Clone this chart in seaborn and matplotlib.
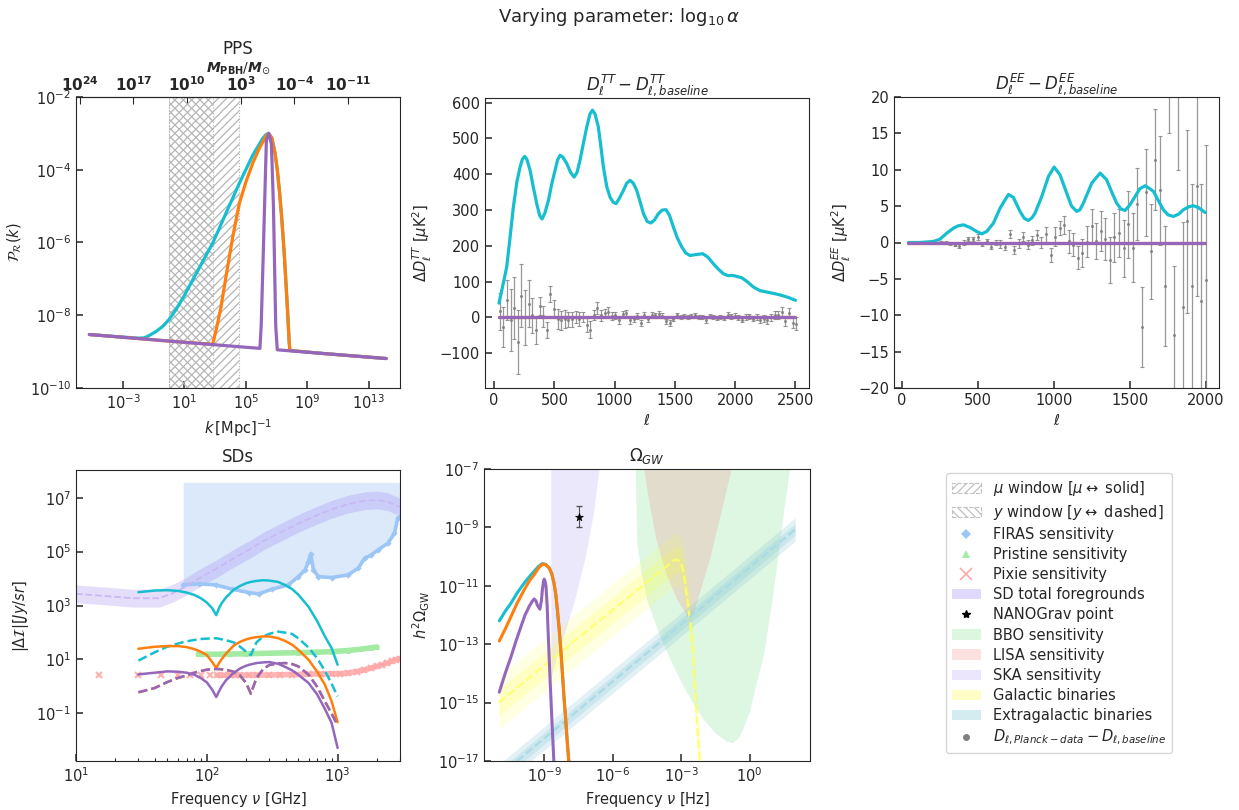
import numpy as np
import matplotlib
matplotlib.use("Agg")
import matplotlib.pyplot as plt
import seaborn as sns
from matplotlib.patches import Patch
from matplotlib.lines import Line2D
from matplotlib.ticker import FixedLocator, NullLocator, LogLocator, NullFormatter

# ---------------------------------------------------------------- data
# PPS panel (log10 k [1/Mpc], log10 P_R)
pps_logk_cyan = [-5.2, -3.0, -2.0, -1.6, -1.27, -0.83, -0.40, -0.01, 0.47, 0.96, 1.55, 2.19, 2.84,
                 3.71, 4.58, 5.45, 6.10, 6.30, 6.48, 6.70, 6.90, 7.05, 7.20, 7.35, 7.50, 7.64, 7.75,
                 7.82, 7.87, 10.0, 14.15]
pps_logP_cyan = [-8.53, -8.60, -8.63, -8.62, -8.55, -8.44, -8.30, -8.12, -7.83, -7.48, -7.02, -6.52,
                 -6.02, -5.19, -4.37, -3.60, -3.14, -3.04, -3.00, -3.13, -3.53, -4.00, -4.62, -5.38,
                 -6.28, -7.29, -8.10, -8.70, -8.97, -9.05, -9.19]
pps_logk_orange = [-5.2, 0.0, 2.84, 3.02, 3.17, 3.39, 3.71, 4.15, 4.58, 5.01, 5.45, 5.88, 6.31, 6.48,
                   6.70, 6.90, 7.05, 7.20, 7.35, 7.50, 7.64, 7.75, 7.82, 7.87, 10.0, 14.15]
pps_logP_orange = [-8.53, -8.71, -8.80, -8.48, -8.21, -7.75, -6.93, -5.84, -4.92, -4.33, -3.82, -3.41,
                   -3.08, -3.00, -3.13, -3.53, -4.00, -4.62, -5.38, -6.28, -7.29, -8.10, -8.70, -8.97,
                   -9.05, -9.19]
pps_logk_purple = [-5.2, 0.0, 5.0, 5.92, 6.0, 6.12, 6.34, 6.5, 6.67, 6.8, 6.95, 7.05, 10.0, 14.15]
pps_logP_purple = [-8.53, -8.71, -8.88, -8.91, -8.3, -6.56, -3.19, -3.0, -3.3, -5.0, -8.3, -8.95,
                   -9.05, -9.19]
mu_window_k = [1.0, 10 ** 4.53]
y_window_k = [1.0, 10 ** 2.86]
mpbh_ticks = [1e24, 1e17, 1e10, 1e3, 1e-4, 1e-11]
mpbh_ticklabels = ["24", "17", "10", "3", "-4", "-11"]

# TT / EE curves
tt_ell = [41, 70, 105, 130, 160, 190, 216, 235, 254, 272, 299, 325, 354, 378, 398, 420, 451, 480, 506,
          527, 547, 570, 603, 635, 664, 688, 713, 740, 769, 795, 816, 838, 865, 885, 907, 935, 962,
          988, 1012, 1040, 1073, 1100, 1128, 1155, 1183, 1210, 1239, 1270, 1300, 1330, 1363, 1395,
          1427, 1455, 1488, 1520, 1557, 1590, 1626, 1680, 1731, 1775, 1819, 1860, 1902, 1940, 1985,
          2054, 2100, 2151, 2205, 2262, 2320, 2372, 2440, 2500]
tt_cyan = [40, 85, 141, 215, 308, 380, 420, 442, 450, 442, 411, 365, 318, 285, 275, 290, 327, 375, 411,
           440, 453, 448, 430, 405, 392, 405, 439, 485, 532, 568, 579, 568, 532, 480, 420, 365, 336,
           322, 318, 333, 355, 375, 383, 375, 355, 325, 290, 268, 264, 272, 290, 300, 301, 285, 252,
           222, 197, 180, 173, 176, 178, 168, 150, 135, 122, 117, 117, 111, 100, 85, 75, 71, 67, 63,
           56, 48]
ee_ell = [42, 118, 206, 250, 294, 338, 370, 404, 447, 491, 524, 557, 601, 645, 670, 700, 732, 776, 805,
          831, 855, 875, 919, 963, 1000, 1039, 1083, 1115, 1149, 1170, 1193, 1248, 1303, 1346, 1380,
          1412, 1440, 1467, 1500, 1533, 1565, 1599, 1630, 1654, 1690, 1719, 1750, 1785, 1820, 1851,
          1885, 1917, 1950, 1993]
ee_cyan = [0.0, 0.0, 0.14, 0.46, 1.28, 1.97, 2.3, 2.43, 2.06, 1.51, 1.19, 1.51, 2.66, 4.72, 5.6, 6.6,
           6.2, 4.27, 3.3, 3.03, 3.4, 4.04, 6.33, 9.08, 10.37, 9.31, 6.79, 5.0, 4.27, 4.5, 5.41, 8.17,
           9.54, 8.62, 6.9, 5.41, 4.6, 4.40, 5.2, 6.33, 7.4, 7.8, 7.4, 7.02, 5.6, 4.5, 3.8, 3.58, 3.9,
           4.5, 4.9, 5.05, 4.8, 4.13]

# Planck binned residuals
planck_ell = [47, 77, 107, 137, 167, 197, 227, 257, 287, 317, 347, 377, 407, 437, 467, 497, 527, 557,
              587, 617, 647, 677, 707, 737, 767, 797, 827, 857, 887, 917, 947, 977, 1007, 1037, 1067,
              1097, 1127, 1157, 1187, 1217, 1247, 1277, 1307, 1337, 1367, 1397, 1427, 1457, 1487, 1517,
              1547, 1577, 1607, 1637, 1667, 1697, 1727, 1757, 1787, 1817, 1847, 1877, 1907, 1937, 1967,
              1997, 2027, 2057, 2087, 2117, 2147, 2177, 2207, 2237, 2267, 2297, 2327, 2357, 2387, 2417,
              2447, 2477, 2507]
tt_data = [16.7, -27, 49, -6.5, 27, -69, 61, 0, 38, 5.6, -36, 33, 3, -34, 66, 24, -4, -8, -4, -6,
           -5, 1, -4, 1, -20, -34, 7, 27, 6, 12, 15, 5, 6, -8, 10, 12, -8, -4, 5, -16, 7,
           -4, 8, 6, 10, 5, -11, -16, -4, 6, 1, 5, 1, 5, 6, 2, 1, -8, 4, 1, -1, 1, -1, 8, 3, 5, -1,
           -7, 1, 3, -3, 1, -6, -3, -7, 1, 6, 6, 15, -10, 12, -15, -18]
tt_err = [51, 55, 57, 86, 87, 90, 88, 77, 66, 49, 37, 25, 29, 22, 23, 24, 27, 26, 25, 22, 21, 17, 19,
          14, 21, 23, 14, 16, 15, 12, 14, 11, 9, 9, 9, 8, 9, 9, 8, 9, 8,
          8, 7, 7, 8, 7, 7, 8, 7, 6, 6, 6, 6, 6, 6, 6, 6, 7, 6, 6, 6, 6, 6, 6, 6, 7, 7, 7, 8, 8, 8,
          9, 9, 9, 10, 10, 11, 11, 13, 13, 14, 15, 18]
ee_data = [0.0, 0.0, 0.0, 0.01, -0.02, 0.03, 0.0, 0.05, 0.0, -0.1, -0.3, -0.45, 0.0, 0.45, 0.45, 0.8,
           -0.25, 0.15, -0.55, 0.0, -0.2, -0.55, 1.15, -1.0, -0.1, 0.8, -0.3, 0.3, 1.05, 0.0, 1.1, -1.7,
           0.8, 2.0, 2.4, 0.15, -0.3, -2.1, -1.4, 0.1, 2.3, 0.2, 1.6, 0.45, -2.4, 0.7, 1.3, -0.8, 2.5,
           -0.7, 5.3, -11.6, 6.9, -1.2, 11.4, 7.2, -6.0, 26, -12.7, 22, -8.8, 2.9, -6.0, 7.7, -8.0, -5.2]
ee_err = [0.05, 0.05, 0.05, 0.06, 0.07, 0.08, 0.1, 0.12, 0.15, 0.2, 0.2, 0.3, 0.3, 0.3, 0.3, 0.4, 0.25,
          0.3, 0.4, 0.4, 0.6, 0.5, 0.5, 0.55, 0.6, 0.6, 0.6, 0.65, 0.7, 0.8, 1.0, 1.0, 1.3, 1.0, 1.3,
          1.6, 1.6, 1.6, 1.9, 2.1, 2.3, 2.5, 2.7, 2.9, 3.2, 3.4, 3.3, 3.9, 4.6, 4.7, 5.0, 5.5, 6.0, 6.5,
          7.0, 7.5, 8.2, 11, 9.5, 12, 11.6, 12.6, 14, 15, 16, 18.6]

# Spectral distortions (GHz, log10 |dI| [Jy/sr])
sd_nu = [30, 40, 50, 60, 70, 80, 90, 100, 110, 118, 124, 130, 140, 160, 180, 200, 217, 240, 270, 300,
         350, 400, 450, 500, 600, 700, 800, 900, 1000]
sd_cyan_mu = [3.495, 3.557, 3.569, 3.544, 3.482, 3.396, 3.272, 3.112, 2.902, 2.643, 2.902, 3.087,
              3.297, 3.581, 3.729, 3.828, 3.877, 3.914, 3.939, 3.927, 3.877, 3.754, 3.606, 3.408,
              2.951, 2.408, 1.853, 1.421, 0.803]
sd_cyan_y = [0.956, 1.265, 1.472, 1.588, 1.67, 1.721, 1.758, 1.771, 1.782, 1.787, 1.766, 1.746, 1.714,
             1.634, 1.47, 1.285, 1.16, 1.637, 1.848, 1.95, 2.032, 1.992, 1.943, 1.787, 1.441, 1.034,
             0.577, 0.097, -0.37]
sd_orange_mu = [1.396, 1.47, 1.495, 1.495, 1.458, 1.384, 1.285, 1.162, 0.902, 0.68, 0.865, 1.013,
                1.211, 1.507, 1.655, 1.742, 1.791, 1.828, 1.853, 1.853, 1.791, 1.68, 1.544, 1.359,
                0.989, 0.532, 0.062, -0.555, -1.333]
sd_orange_y = [-0.221, -0.061, 0.161, 0.309, 0.408, 0.507, 0.569, 0.618, 0.643, 0.643, 0.643, 0.63,
               0.618, 0.544, 0.396, 0.124, -0.27, 0.309, 0.643, 0.791, 0.853, 0.865, 0.828, 0.742,
               0.433, -0.024, -0.555, -1.012, -1.443]
sd_purple_mu = [0.445, 0.507, 0.556, 0.544, 0.507, 0.433, 0.309, 0.149, -0.123, -0.395, -0.185, 0.001,
                0.223, 0.495, 0.668, 0.766, 0.816, 0.865, 0.89, 0.902, 0.84, 0.717, 0.593, 0.433,
                0.124, -0.308, -0.838, -1.357, -2.283]
sd_purple_y = [-0.221, -0.061, 0.161, 0.309, 0.408, 0.507, 0.569, 0.618, 0.643, 0.643, 0.643, 0.63,
               0.618, 0.544, 0.396, 0.124, -0.27, 0.309, 0.643, 0.791, 0.853, 0.865, 0.828, 0.742,
               0.433, -0.024, -0.555, -1.012, -1.443]
fg_nu = [10, 15.2, 27.2, 43.4, 54.8, 69.2, 87.5, 117, 156, 209, 280, 375, 502, 673, 900, 1203, 1611,
         2033, 2421, 2884, 3000]
fg_mid = [3.433, 3.371, 3.272, 3.272, 3.458, 3.705, 4.013, 4.347, 4.717, 5.063, 5.433, 5.742, 6.05,
          6.322, 6.569, 6.766, 6.89, 6.914, 6.853, 6.692, 6.65]
fg_lo = [3.103, 3.041, 2.942, 2.942, 3.128, 3.375, 3.683, 4.017, 4.387, 4.733, 5.103, 5.412, 5.72,
         5.992, 6.239, 6.436, 6.56, 6.584, 6.523, 6.362, 6.32]
fg_hi = [3.763, 3.701, 3.602, 3.602, 3.788, 4.035, 4.343, 4.677, 5.047, 5.393, 5.763, 6.072, 6.38,
         6.652, 6.899, 7.096, 7.22, 7.244, 7.183, 7.022, 6.98]
firas_nu = [66, 87.5, 117, 156, 209, 249, 315, 421, 502, 565, 598, 623, 653, 713, 900, 1203, 1435,
            1611, 1811, 2033, 2421, 2722, 2884, 3000]
firas_I = [3.766, 3.803, 3.766, 3.606, 3.482, 3.433, 3.606, 3.766, 4.075, 4.322, 4.63, 4.914, 4.322,
           4.075, 4.038, 4.137, 4.384, 4.754, 4.877, 5.063, 5.31, 5.68, 6.235, 6.3]
firas_top = 7.57
pristine_nu = [86, 100, 150, 200, 300, 500, 700, 900, 1200, 1500, 1800, 2000]
pristine_I = [1.19, 1.19, 1.2, 1.21, 1.23, 1.25, 1.27, 1.29, 1.33, 1.38, 1.43, 1.46]
pixie_nu = [15, 30, 45, 60, 75, 90, 105, 120, 135, 150, 165, 180, 210, 240, 300, 360, 450, 600, 750,
            900, 1050, 1200, 1400, 1600, 1800, 2000, 2200, 2400, 2600, 2800, 3000]
pixie_I = [0.41, 0.41, 0.41, 0.41, 0.41, 0.41, 0.41, 0.41, 0.41, 0.41, 0.41, 0.41, 0.42, 0.42, 0.42,
           0.43, 0.44, 0.45, 0.46, 0.47, 0.47, 0.49, 0.55, 0.61, 0.68, 0.74, 0.81, 0.87, 0.93, 0.99,
           1.03]

# Gravitational waves (log10 f [Hz], log10 h^2 Omega)
gw_logf_cyan = [-10.98, -10.7, -10.47, -10.2, -9.89, -9.65, -9.45, -9.25, -9.09, -8.95, -8.79, -8.68,
                -8.58, -8.5, -8.43, -8.35, -8.28, -8.21, -8.14, -8.06, -7.99, -7.9]
gw_logO_cyan = [-12.2, -11.85, -11.6, -11.25, -10.91, -10.68, -10.5, -10.33, -10.24, -10.27, -10.39,
                -10.58, -10.91, -11.3, -11.83, -12.5, -13.2, -14.0, -14.82, -15.65, -16.43, -17.3]
gw_logf_orange = [-10.98, -10.7, -10.47, -10.2, -9.89, -9.65, -9.45, -9.25, -9.09, -8.95, -8.79, -8.68,
                  -8.58, -8.5, -8.43, -8.35, -8.28, -8.21, -8.14, -8.06, -7.99, -7.9]
gw_logO_orange = [-12.89, -12.45, -12.06, -11.6, -11.14, -10.82, -10.62, -10.38, -10.26, -10.27,
                  -10.39, -10.58, -10.91, -11.3, -11.83, -12.5, -13.2, -14.0, -14.82, -15.65, -16.43,
                  -17.3]
gw_logf_purple = [-10.98, -10.72, -10.47, -10.25, -10.03, -9.85, -9.67, -9.55, -9.45, -9.37, -9.31,
                  -9.2, -9.13, -9.09, -9.04, -9.01, -8.97, -8.93, -8.88, -8.84, -8.75, -8.65, -8.58]
gw_logO_purple = [-14.64, -14.0, -13.44, -12.9, -12.4, -12.0, -11.71, -11.55, -11.45, -11.52, -11.66,
                  -11.8, -11.5, -11.14, -10.85, -10.77, -10.85, -11.02, -11.7, -12.52, -14.24, -15.97,
                  -17.1]
ska_logf = [-8.72, -8.5, -8.1, -7.66, -7.22, -6.86, -6.6, -6.45]
ska_logO = [-14.2, -13.5, -12.57, -11.43, -10.05, -8.55, -7.0, -6.0]
bbo_logf = [-5.05, -4.95, -4.75, -4.5, -4.0, -3.5, -3.0, -2.5, -2.0, -1.5, -1.0, -0.74, -0.5, -0.3,
            0.0, 0.3, 0.6, 1.0, 1.3, 1.5, 1.75, 1.9]
bbo_logO = [-6.0, -9.5, -10.6, -11.5, -12.6, -13.5, -14.3, -15.0, -15.6, -16.05, -16.32, -16.37,
            -16.2, -15.9, -15.3, -14.3, -13.4, -11.4, -9.6, -8.4, -7.0, -6.0]
lisa_logf = [-4.7, -4.64, -4.45, -4.09, -3.65, -3.21, -2.77, -2.66, -2.5, -2.19, -1.75, -1.32, -0.81,
             -0.6]
lisa_logO = [-6.0, -7.0, -7.98, -9.47, -10.62, -11.43, -12.0, -12.17, -12.0, -11.2, -10.05, -8.67,
             -7.0, -6.0]
gal_logf = [-11, -9, -7, -5, -4, -3.5, -3.25, -3.05, -2.92, -2.85, -2.7, -2.59, -2.48, -2.41, -2.3,
            -2.19, -2.1]
gal_logO = [-15.0, -13.73, -12.46, -11.2, -10.56, -10.25, -10.1, -10.15, -10.45, -10.8, -11.66, -12.34,
            -13.27, -14.4, -15.8, -17.0, -18.2]
gal_inner_dex = 0.45
gal_outer_dex = 0.9
xgal_logf = [-11.0, -4.5, 2.0]
xgal_logO = [-17.52, -13.3, -9.07]
xgal_inner_dex = 0.2
xgal_outer_dex = 0.4
nanograv_logf = -7.47
nanograv_logO = [-8.63]
nanograv_lo = -8.98
nanograv_hi = -8.28

# ---------------------------------------------------------------- style
sns.set_style("ticks", {"xtick.direction": "in", "ytick.direction": "in"})
plt.rcParams["font.family"] = ["DejaVu Sans"]
plt.rcParams["font.size"] = 10
plt.rcParams["hatch.color"] = "#b5b5b5"
plt.rcParams["hatch.linewidth"] = 0.9

C_CYAN, C_ORANGE, C_PURPLE = "#17becf", "#ff7f0e", "#9467bd"
C_GRAY = "#7f7f7f"

P = lambda a: np.power(10.0, np.asarray(a, dtype=float))

W, H = 1239.0, 810.0
fig = plt.figure(figsize=(W / 100, H / 100), dpi=100)


def box(l, r, t, b):
    return [l / W, 1 - b / H, (r - l) / W, (b - t) / H]


ax_pps = fig.add_axes(box(76, 400, 97, 388))
ax_tt = fig.add_axes(box(485, 809, 98, 388))
ax_ee = fig.add_axes(box(894, 1219, 97, 388))
ax_sd = fig.add_axes(box(76, 400, 470, 761))
ax_gw = fig.add_axes(box(484, 810, 469, 761))

for a in (ax_pps, ax_tt, ax_ee, ax_sd, ax_gw):
    a.tick_params(labelsize=10.5, length=5, width=1.1, direction="in")
    a.tick_params(which="minor", length=2.5, width=0.8, direction="in")


def line(ax, x, y, color, lw=2.2, ls="-", **kw):
    sns.lineplot(x=np.asarray(x, float), y=np.asarray(y, float), ax=ax, color=color, lw=lw,
                 linestyle=ls, sort=False, estimator=None, legend=False, **kw)


# ---------------------------------------------------------------- PPS
ax = ax_pps
ax.set_xscale("log")
ax.set_yscale("log")
ax.axvspan(*mu_window_k, facecolor="none", edgecolor="#b5b5b5", hatch="////", lw=0.8, ls=":")
ax.axvspan(*y_window_k, facecolor="none", edgecolor="#b5b5b5", hatch="\\\\\\\\", lw=0.8, ls=":")
line(ax, P(pps_logk_cyan), P(pps_logP_cyan), C_CYAN, lw=2.3)
line(ax, P(pps_logk_orange), P(pps_logP_orange), C_ORANGE, lw=2.3)
line(ax, P(pps_logk_purple), P(pps_logP_purple), C_PURPLE, lw=2.3)
ax.set_xlim(10 ** -6.07, 10 ** 15.05)
ax.set_ylim(1e-10, 1e-2)
ax.xaxis.set_major_locator(FixedLocator([1e-3, 1e1, 1e5, 1e9, 1e13]))
ax.yaxis.set_major_locator(FixedLocator([1e-10, 1e-8, 1e-6, 1e-4, 1e-2]))
ax.xaxis.set_minor_locator(NullLocator())
ax.yaxis.set_minor_locator(NullLocator())
ax.set_xlabel(r"$k\,[{\rm Mpc}]^{-1}$", fontsize=10.5)
ax.set_ylabel(r"$\mathcal{P}_\mathcal{R}(k)$", fontsize=10.5)

KM = 10 ** 12.32


def k_to_m(k):
    k = np.clip(np.asarray(k, float), 1e-150, None)
    return KM / k ** 2


def m_to_k(m):
    m = np.clip(np.asarray(m, float), 1e-290, None)
    return np.sqrt(KM / m)


sec = ax.secondary_xaxis("top", functions=(k_to_m, m_to_k))
sec.set_xticks(mpbh_ticks)
sec.set_xticklabels([r"$\mathbf{10^{%s}}$" % s for s in mpbh_ticklabels], fontsize=11)
sec.xaxis.set_minor_locator(NullLocator())
sec.tick_params(direction="in", length=5, pad=2)
sec.set_xlabel(r"$\boldsymbol{M}_{\mathbf{PBH}}/\boldsymbol{M}_{\odot}$", fontsize=10, labelpad=3)
ax.set_title("PPS", fontsize=12, pad=4)

# ---------------------------------------------------------------- TT
ax = ax_tt
ax.errorbar(planck_ell, tt_data, yerr=tt_err, fmt=".", color=C_GRAY, ms=2.5, elinewidth=0.9,
            capsize=1.5, capthick=0.8, alpha=0.8, zorder=1)
line(ax, tt_ell, tt_cyan, C_CYAN, lw=2.3)
line(ax, [45, 2500], [0, 0], C_ORANGE, lw=2.3)
line(ax, [45, 2500], [0, 0], C_PURPLE, lw=2.3)
ax.set_xlim(-75, 2612)
ax.set_ylim(-197, 613)
ax.set_xticks([0, 500, 1000, 1500, 2000, 2500])
ax.set_yticks([-100, 0, 100, 200, 300, 400, 500, 600])
ax.set_xlabel(r"$\ell$", fontsize=10.5)
ax.set_ylabel(r"$\Delta D_\ell^{TT}\ [\mu {\rm K}^2]$", fontsize=10.5)
ax.set_title(r"$D_\ell^{TT} - D_{\ell, baseline}^{TT}$", fontsize=12, pad=6)

# ---------------------------------------------------------------- EE
ax = ax_ee
ax.errorbar(planck_ell[:66], ee_data, yerr=ee_err, fmt=".", color=C_GRAY, ms=2.5, elinewidth=0.9,
            capsize=1.5, capthick=0.8, alpha=0.8, zorder=1)
line(ax, ee_ell, ee_cyan, C_CYAN, lw=2.3)
line(ax, [42, 1993], [0, 0], C_ORANGE, lw=2.3)
line(ax, [42, 1993], [0, 0], C_PURPLE, lw=2.3)
ax.set_xlim(-53, 2085)
ax.set_ylim(-20, 20)
ax.set_xticks([0, 500, 1000, 1500, 2000])
ax.set_yticks([-20, -15, -10, -5, 0, 5, 10, 15, 20])
ax.set_xlabel(r"$\ell$", fontsize=10.5)
ax.set_ylabel(r"$\Delta D_\ell^{EE}\ [\mu {\rm K}^2]$", fontsize=10.5)
ax.set_title(r"$D_\ell^{EE} - D_{\ell, baseline}^{EE}$", fontsize=12, pad=6)

# ---------------------------------------------------------------- SDs
ax = ax_sd
ax.set_xscale("log")
ax.set_yscale("log")
C_FIRAS = "#9cc6f5"
ax.fill_between(firas_nu, P(firas_I), P(firas_top), color="#dce9fb", lw=0, zorder=0)
line(ax, firas_nu, P(firas_I), C_FIRAS, lw=2.6, marker="D", markersize=3.2, markeredgewidth=0)
ax.fill_between(fg_nu, P(fg_lo), P(fg_hi), color="#9a80f0", alpha=0.26, lw=0, zorder=1)
line(ax, fg_nu, P(fg_mid), "#c9b8f5", lw=1.3, ls="--")
line(ax, pristine_nu, P(pristine_I), "#a3eaa3", lw=4.0, marker="^", markersize=3.5,
     markeredgewidth=0)
ax.plot(pixie_nu, P(pixie_I), ls="none", marker="x", color="#ffb0b0", ms=4, mew=1.5)
line(ax, pixie_nu[7:], P(pixie_I[7:]), "#ffa8a8", lw=4.0, alpha=0.85)
line(ax, sd_nu, P(sd_cyan_mu), C_CYAN, lw=1.8)
line(ax, sd_nu, P(sd_cyan_y), C_CYAN, lw=1.8, ls="--")
line(ax, sd_nu, P(sd_orange_mu), C_ORANGE, lw=1.8)
line(ax, sd_nu, P(sd_orange_y), C_ORANGE, lw=1.8, ls="--")
line(ax, sd_nu, P(sd_purple_mu), C_PURPLE, lw=1.8)
line(ax, sd_nu, P(sd_purple_y), C_PURPLE, lw=1.8, ls="--")
ax.set_xlim(10, 3000)
ax.set_ylim(10 ** -2.77, 10 ** 8.03)
ax.xaxis.set_major_locator(FixedLocator([10, 100, 1000]))
ax.xaxis.set_minor_locator(LogLocator(base=10, subs=np.arange(2, 10)))
ax.xaxis.set_minor_formatter(NullFormatter())
ax.yaxis.set_major_locator(FixedLocator([1e-1, 1e1, 1e3, 1e5, 1e7]))
ax.yaxis.set_minor_locator(NullLocator())
ax.set_xlabel(r"Frequency $\nu$ [GHz]", fontsize=10.5)
ax.set_ylabel(r"$|\Delta \mathcal{I}| [Jy/sr]$", fontsize=10.5)
ax.set_title("SDs", fontsize=12, pad=6)

# ---------------------------------------------------------------- GW
ax = ax_gw
ax.set_xscale("log")
ax.set_yscale("log")
TOP = 1e-5
ax.fill_between(P(ska_logf), P(ska_logO), TOP, color="#8a74ee", alpha=0.16, lw=0, zorder=0)
ax.fill_between(P(bbo_logf), P(bbo_logO), TOP, color="#7fe08f", alpha=0.25, lw=0, zorder=0)
ax.fill_between(P(lisa_logf), P(lisa_logO), TOP, color="#f07070", alpha=0.2, lw=0, zorder=0)
gf = P(gal_logf)
gc = np.asarray(gal_logO)
ax.fill_between(gf, P(gc - gal_outer_dex), P(gc + gal_outer_dex), color="#ffff33", alpha=0.13, lw=0)
ax.fill_between(gf, P(gc - gal_inner_dex), P(gc + gal_inner_dex), color="#ffff33", alpha=0.18, lw=0)
line(ax, gf, P(gc), "#ffff66", lw=1.6, ls="--", alpha=0.9)
xf = P(xgal_logf)
xc = np.asarray(xgal_logO)
ax.fill_between(xf, P(xc - xgal_outer_dex), P(xc + xgal_outer_dex), color="#8cc8d8", alpha=0.25, lw=0)
ax.fill_between(xf, P(xc - xgal_inner_dex), P(xc + xgal_inner_dex), color="#8cc8d8", alpha=0.25, lw=0)
line(ax, xf, P(xc), "#a9dbe6", lw=1.6, ls="--")
line(ax, P(gw_logf_cyan), P(gw_logO_cyan), C_CYAN, lw=2.2)
line(ax, P(gw_logf_orange), P(gw_logO_orange), C_ORANGE, lw=2.2)
line(ax, P(gw_logf_purple), P(gw_logO_purple), C_PURPLE, lw=2.2)
ng_f = [10 ** nanograv_logf]
ng_O = P(nanograv_logO)
ax.errorbar(ng_f, ng_O, yerr=[[ng_O[0] - 10 ** nanograv_lo], [10 ** nanograv_hi - ng_O[0]]],
            fmt="none", ecolor="#555555", elinewidth=0.8, capsize=2, zorder=4)
sns.scatterplot(x=ng_f, y=ng_O, ax=ax, marker="*", s=35, color="black", edgecolor="black",
                zorder=5, legend=False)
ax.set_xlim(10 ** -11.65, 10 ** 2.65)
ax.set_ylim(1e-17, 1e-7)
ax.xaxis.set_major_locator(FixedLocator([1e-9, 1e-6, 1e-3, 1e0]))
ax.xaxis.set_minor_locator(NullLocator())
ax.yaxis.set_major_locator(FixedLocator([1e-17, 1e-15, 1e-13, 1e-11, 1e-9, 1e-7]))
ax.yaxis.set_minor_locator(NullLocator())
ax.set_xlabel(r"Frequency $\nu$ [Hz]", fontsize=10.5)
ax.set_ylabel(r"$h^2\Omega_{\rm GW}$", fontsize=10.5)
ax.set_title(r"$\Omega_{GW}$", fontsize=12, pad=6)

# ---------------------------------------------------------------- legend
handles = [
    Patch(facecolor="none", edgecolor="#c0c0c0", hatch="////", ls="--", lw=0.8,
          label=r"$\mu$ window [$\mu \leftrightarrow$ solid]"),
    Patch(facecolor="none", edgecolor="#c0c0c0", hatch="\\\\\\\\", ls="--", lw=0.8,
          label=r"$y$ window [$y \leftrightarrow$ dashed]"),
    Line2D([], [], ls="none", marker="D", ms=5, color=C_FIRAS, mew=0, label="FIRAS sensitivity"),
    Line2D([], [], ls="none", marker="^", ms=6, color="#a3eaa3", mew=0, label="Pristine sensitivity"),
    Line2D([], [], ls="none", marker="x", ms=9, color="#ffa8a8", mew=1.2, label="Pixie sensitivity"),
    Patch(facecolor="#e1d9fb", edgecolor="none", label="SD total foregrounds"),
    Line2D([], [], ls="none", marker="*", ms=6, color="black", label="NANOGrav point"),
    Patch(facecolor="#dcf6e0", edgecolor="none", label="BBO sensitivity"),
    Patch(facecolor="#fde0e0", edgecolor="none", label="LISA sensitivity"),
    Patch(facecolor="#ebe6fc", edgecolor="none", label="SKA sensitivity"),
    Patch(facecolor="#fefdc6", edgecolor="none", label="Galactic binaries"),
    Patch(facecolor="#d4ecf0", edgecolor="none", label="Extragalactic binaries"),
    Line2D([], [], ls="none", marker="o", ms=4, color=C_GRAY,
           label=r"$D_{\ell, Planck-data} - D_{\ell, baseline}$"),
]
fig.legend(handles=handles, loc="upper left", bbox_to_anchor=(946 / W, 1 - 473 / H), fontsize=10.5,
           labelspacing=0.35, handlelength=2.0, handletextpad=0.8, borderpad=0.4, borderaxespad=0,
           frameon=True, fancybox=True, edgecolor="#cccccc")

fig.suptitle(r"Varying parameter: $\log_{10}\alpha$", fontsize=13, y=0.992)

fig.savefig("out.png", dpi=100)
